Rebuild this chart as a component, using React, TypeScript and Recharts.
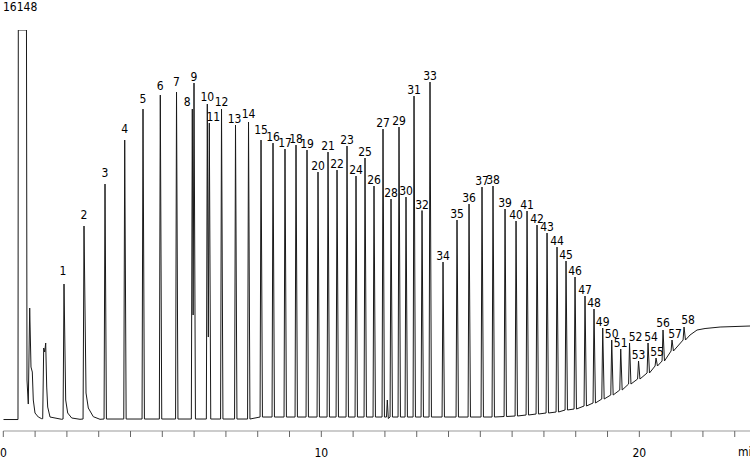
import React from 'react';
import { ComposedChart, Line, Scatter, XAxis, YAxis, Customized } from 'recharts';

// ---- Data ----
const yMax = 16148;
const yMin = -455;
const xMax = 23.48;

const peakLabels = ['1','2','3','4','5','6','7','8','9','10','11','12','13','14','15','16','17','18','19','20','21','22','23','24','25','26','27','28','29','30','31','32','33','34','35','36','37','38','39','40','41','42','43','44','45','46','47','48','49','50','51','52','53','54','55','56','57','58'];
const peakTimes = [1.909,2.538,3.198,3.818,4.393,4.937,5.447,5.943,5.997,6.415,6.478,6.862,7.302,7.711,8.104,8.481,8.858,9.204,9.55,9.896,10.211,10.494,10.808,11.091,11.374,11.657,11.94,12.192,12.443,12.663,12.915,13.167,13.418,13.827,14.267,14.645,15.053,15.399,15.777,16.123,16.469,16.783,17.098,17.412,17.695,17.978,18.292,18.575,18.849,19.132,19.415,19.692,19.975,20.274,20.525,20.745,21.028,21.406];
const peakHeights = [5630,8032,9770,11592,12875,13455,13579,12875,13952,13082,12296,12875,12213,12337,11592,11468,11219,11385,11178,10267,11095,10350,11344,10102,10847,9688,12047,9149,12130,9232,13414,8673,13993,6541,8280,8942,9646,9688,8735,8239,8653,8073,7742,7162,6583,5920,5134,4595,3809,3312,2939,3188,2443,3188,2567,3726,3312,3850];
const peakBases = [41,41,41,41,41,41,41,41,41,41,41,41,41,41,124,124,124,124,124,124,124,124,124,124,124,124,124,124,124,124,124,124,124,124,124,124,124,124,145,166,207,248,290,331,414,455,580,704,869,1035,1242,1490,1697,1946,2236,2443,2857,3312];

// solvent front and early unlabeled peaks
const leadTimes = [0,0.462,0.472,0.729,0.745,0.786,0.83,0.871,0.912,0.943,0.997,1.101,1.208,1.239,1.27,1.302,1.333,1.365,1.396,1.469,1.836];
const leadValues = [20,20,16148,16148,1656,662,4637,2194,1987,828,290,124,54,54,2981,2815,3188,1366,538,124,29];
// tails of peaks 1 and 2
const tailTimes = [1.962,2.025,2.151,2.412,2.601,2.673,2.83,3.041];
const tailValues = [828,290,83,29,1118,497,137,29];
// valleys between fused peaks 8/9 and 10/11
const valleyTimes = [5.969,6.447];
const valleyValues = [4347,3436];
// small spike near 12.07 min
const noiseTimes = [12.05,12.075,12.107];
const noiseValues = [124,828,62];
// rising baseline / plateau at the end
const tailBaseTimes = [21.594,21.814,22.066,22.54,23.48];
const tailBaseValues = [3519,3726,3788,3850,3892];

const xTicks = [0,1,2,3,4,5,6,7,8,9,10,11,12,13,14,15,16,17,18,19,20,21,22,23];

const skipAfter = new Set(['1','2','8','10']);
const skipBefore = new Set(['9','11']);

// label placement tweaks (style only)
const labelDx: Record<string, number> = { '1': -1, '8': -5, '11': 4, '13': -1, '52': 6, '54': 3, '55': 1, '57': 3, '58': 4 };
const labelDy: Record<string, number> = { '1': 7, '2': 5, '3': 5, '4': 5, '5': 4, '6': 3, '7': 4, '8': 1, '10': 1, '12': 1, '14': 2, '15': 4, '56': 1, '58': 1 };

type Pt = { t: number; v: number };

function buildTrace(): Pt[] {
  const pts: Pt[] = [];
  leadTimes.forEach((t, i) => pts.push({ t, v: leadValues[i] }));
  tailTimes.forEach((t, i) => pts.push({ t, v: tailValues[i] }));
  valleyTimes.forEach((t, i) => pts.push({ t, v: valleyValues[i] }));
  noiseTimes.forEach((t, i) => pts.push({ t, v: noiseValues[i] }));
  tailBaseTimes.forEach((t, i) => pts.push({ t, v: tailBaseValues[i] }));
  peakLabels.forEach((name, i) => {
    const t = peakTimes[i];
    const b = peakBases[i];
    if (!skipBefore.has(name)) pts.push({ t: t - 0.03, v: b });
    pts.push({ t, v: peakHeights[i] });
    if (!skipAfter.has(name)) pts.push({ t: t + 0.045, v: b });
  });
  pts.sort((a, b) => a.t - b.t);
  return pts;
}

const trace = buildTrace();
const apexes = peakLabels.map((name, i) => ({ t: peakTimes[i], v: peakHeights[i], name }));

const FONT = "'DejaVu Sans Condensed', 'Liberation Sans', sans-serif";

const PeakLabel = (props: any) => {
  const { cx, cy, payload } = props;
  if (cx == null || cy == null) return null;
  const name = payload.name;
  const dx = labelDx[name] || 0;
  const dy = labelDy[name] || 0;
  return (
    <text x={cx + dx} y={cy - 2 - dy} textAnchor="middle" fontSize={12} fontFamily={FONT} fill="#000">
      {name}
    </text>
  );
};

export default function App() {
  return (
    <div style={{ position: 'absolute', left: 0, top: 0, width: 750, height: 457, background: '#fff' }}>
      <ComposedChart width={750} height={457} margin={{ top: 30, right: 0, bottom: 0, left: 3.3 }}>
        <XAxis
          type="number"
          dataKey="t"
          domain={[0, xMax]}
          allowDataOverflow
          ticks={xTicks}
          interval={0}
          height={26}
          tickSize={6}
          tickMargin={11}
          tickFormatter={(v: number) => (v % 10 === 0 ? String(v) : '')}
          axisLine={{ stroke: '#999' }}
          tickLine={{ stroke: '#666' }}
          tick={{ fontSize: 12, fill: '#000', fontFamily: FONT }}
        />
        <YAxis type="number" dataKey="v" domain={[yMin, yMax]} allowDataOverflow hide />
        <Line
          data={trace}
          dataKey="v"
          type="linear"
          stroke="#1a1a1a"
          strokeWidth={1}
          dot={false}
          activeDot={false}
          isAnimationActive={false}
        />
        <Scatter data={apexes} dataKey="v" shape={<PeakLabel />} isAnimationActive={false} />
        <Customized
          component={() => (
            <g>
              <text x={3} y={10.5} fontSize={12} fontFamily={FONT} fill="#000">{String(yMax)}</text>
              <text x={738} y={456} fontSize={12} fontFamily={FONT} fill="#000">min</text>
            </g>
          )}
        />
      </ComposedChart>
    </div>
  );
}
